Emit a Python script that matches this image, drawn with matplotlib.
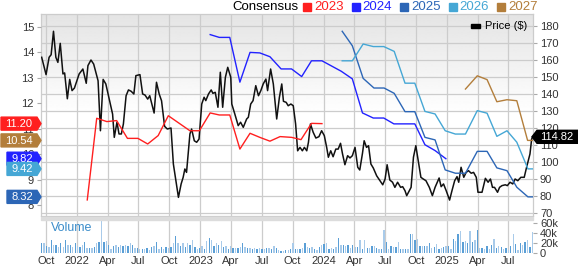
import numpy as np
import pandas as pd
import matplotlib
matplotlib.use('Agg')
import matplotlib.pyplot as plt
from matplotlib.patches import Polygon, Rectangle

plt.rcParams['font.family'] = ['Liberation Sans', 'DejaVu Sans']

# ---------------- data ----------------
price_dates = ['2021-09-18','2021-10-01','2021-10-10','2021-10-16','2021-10-23','2021-10-30','2021-11-05','2021-11-12',
 '2021-11-20','2021-11-25','2021-12-03','2021-12-10','2021-12-17','2021-12-24','2022-01-07','2022-01-18','2022-01-28',
 '2022-02-02','2022-02-11','2022-02-19','2022-03-04','2022-03-11','2022-03-19','2022-03-27','2022-04-08','2022-04-16',
 '2022-04-21','2022-04-29','2022-05-05','2022-05-12','2022-05-18','2022-05-26','2022-06-02','2022-06-10','2022-06-18',
 '2022-06-24','2022-07-06','2022-07-14','2022-07-21','2022-07-29','2022-08-04','2022-08-17','2022-08-24','2022-09-01',
 '2022-09-08','2022-09-17','2022-09-25','2022-10-06','2022-10-13','2022-10-28','2022-11-05','2022-11-11','2022-11-16',
 '2022-11-21','2022-12-01','2022-12-06','2022-12-14','2022-12-21','2022-12-28','2023-01-05','2023-01-12','2023-01-17',
 '2023-01-25','2023-02-02','2023-02-07','2023-02-14','2023-02-22','2023-03-01','2023-03-08','2023-03-16','2023-03-23',
 '2023-04-01','2023-04-04','2023-04-13','2023-04-23','2023-04-30','2023-05-08','2023-05-18','2023-05-23','2023-05-30',
 '2023-06-06','2023-06-14','2023-06-22','2023-06-29','2023-07-06','2023-07-14','2023-07-19','2023-07-28','2023-08-05',
 '2023-08-15','2023-08-23','2023-08-30','2023-09-04','2023-09-12','2023-09-18','2023-09-26','2023-10-03','2023-10-10',
 '2023-10-16','2023-10-23','2023-10-30','2023-11-05','2023-11-12','2023-11-17','2023-11-23','2023-12-01','2023-12-09',
 '2023-12-18','2023-12-26','2024-01-03','2024-01-10','2024-01-15','2024-01-22','2024-01-29','2024-02-06','2024-02-13',
 '2024-02-20','2024-02-26','2024-03-04','2024-03-12','2024-03-19','2024-03-26','2024-04-03','2024-04-11','2024-04-17',
 '2024-04-25','2024-04-30','2024-05-07','2024-05-13','2024-05-20','2024-05-27','2024-06-06','2024-06-16','2024-06-24',
 '2024-07-01','2024-07-07','2024-07-15','2024-07-23','2024-07-30','2024-08-07','2024-08-16','2024-08-22','2024-08-29',
 '2024-09-03','2024-09-16','2024-09-23','2024-09-30','2024-10-07','2024-10-15','2024-10-22','2024-10-30','2024-11-09',
 '2024-11-18','2024-11-26','2024-12-08','2024-12-14','2024-12-21','2024-12-29','2025-01-08','2025-01-15','2025-01-23',
 '2025-01-30','2025-02-04','2025-02-11','2025-02-19','2025-02-26','2025-03-05','2025-03-13','2025-03-20','2025-03-28',
 '2025-04-02','2025-04-14','2025-04-24','2025-05-02','2025-05-09','2025-05-15','2025-05-21','2025-05-30','2025-06-05',
 '2025-06-12','2025-06-22','2025-06-28','2025-07-06','2025-07-14','2025-07-21','2025-07-29','2025-08-07','2025-08-17',
 '2025-08-24','2025-09-03','2025-09-08','2025-09-11']
price_values = [161.6,151.4,161.6,163.1,176.9,161.6,158.6,169.8,151.8,152.4,137.2,148.6,142.0,143.5,151.8,154.7,146.3,
 156.7,160.0,157.6,147.8,118.4,148.6,145.9,135.1,128.2,114.5,123.4,116.5,116.5,122.4,139.0,142.4,141.6,140.0,150.8,
 151.4,140.0,139.4,137.0,139.0,128.8,146.9,140.0,136.0,121.0,119.4,120.0,98.8,79.2,87.1,91.0,95.9,93.9,116.5,119.4,
 112.5,111.6,113.5,134.1,138.1,136.1,140.0,142.4,140.4,141.0,132.2,152.8,132.2,149.8,155.7,149.8,134.1,128.2,121.4,
 123.4,120.4,125.3,126.3,134.1,136.1,144.9,139.0,142.0,145.9,148.8,142.0,154.7,145.9,125.3,138.1,145.9,135.7,135.1,
 133.1,134.1,133.1,122.4,106.6,108.6,106.6,108.6,106.6,111.6,122.4,117.5,114.1,114.9,118.4,115.5,108.6,102.8,106.6,
 103.1,107.6,107.6,111.0,104.7,98.4,103.7,102.4,103.7,108.6,96.9,95.3,105.1,112.5,108.6,109.6,98.8,96.5,91.9,89.0,
 86.6,90.0,98.4,89.4,88.1,85.1,88.1,85.1,85.5,83.1,80.2,85.1,102.8,109.6,100.8,91.0,90.0,89.0,85.1,80.2,85.1,90.6,
 85.5,87.1,83.1,77.6,83.1,89.0,91.4,88.1,96.9,91.0,93.9,94.9,93.4,93.9,91.0,82.2,82.2,90.4,88.1,90.0,85.1,85.1,82.2,
 85.1,86.1,86.6,86.1,88.1,87.1,90.0,89.0,91.0,91.0,96.9,104.7,113.5,114.82]

c2023_dates = ['2022-01-31','2022-02-28','2022-03-30','2022-04-28','2022-05-30','2022-06-30','2022-07-29','2022-08-29',
 '2022-09-28','2022-12-01','2022-12-29','2023-01-30','2023-02-26','2023-03-29','2023-04-28','2023-05-28','2023-06-26',
 '2023-07-26','2023-08-25','2023-09-28','2023-10-26','2023-11-26','2023-12-27']
c2023_values = [8.20,11.41,11.28,11.32,10.62,10.62,10.40,10.73,11.51,10.92,10.92,11.62,11.54,11.54,10.20,10.82,10.66,
 10.51,10.69,10.66,10.57,11.21,11.20]

c2024_dates = ['2023-01-30','2023-02-26','2023-03-29','2023-04-28','2023-05-28','2023-06-26','2023-07-26','2023-08-28',
 '2023-09-28','2023-10-28','2023-11-26','2023-12-27','2024-02-22','2024-03-26','2024-04-25','2024-05-27','2024-06-27',
 '2024-07-27','2024-08-29','2024-09-27','2024-10-27','2024-11-26','2024-12-28']
c2024_values = [14.70,14.59,14.59,12.83,14.00,13.98,13.83,13.35,13.35,13.05,13.67,13.67,13.26,12.96,11.62,11.42,11.42,
 11.19,11.19,11.19,10.37,10.14,9.82]

c2025_dates = ['2024-02-25','2024-03-26','2024-04-27','2024-05-29','2024-06-28','2024-07-28','2024-08-29','2024-09-27',
 '2024-10-27','2024-11-26','2024-12-26','2025-01-25','2025-02-24','2025-03-31','2025-04-29','2025-05-28','2025-06-27',
 '2025-07-26','2025-08-28','2025-09-11']
c2025_values = [14.83,14.26,12.98,12.60,12.60,12.39,11.67,11.67,10.66,10.56,9.38,9.25,9.25,10.11,10.11,9.46,9.35,8.70,
 8.32,8.32]

c2026_dates = ['2024-02-25','2024-03-26','2024-04-27','2024-05-27','2024-06-27','2024-07-28','2024-08-29','2024-09-27',
 '2024-10-27','2024-11-26','2024-12-26','2025-01-25','2025-02-24','2025-03-31','2025-04-29','2025-05-28','2025-06-27',
 '2025-07-26','2025-08-28','2025-09-11']
c2026_values = [13.67,13.67,14.33,14.23,14.23,14.04,12.79,12.79,11.68,11.58,10.92,10.79,10.79,11.71,11.61,10.70,10.92,
 10.47,9.42,9.42]

c2027_dates = ['2025-02-24','2025-03-31','2025-04-29','2025-05-28','2025-06-27','2025-07-26','2025-08-27','2025-09-11']
c2027_values = [12.56,13.08,12.93,12.06,12.14,12.10,10.54,10.54]

# weekly volume, thousands of shares
volume_k = [20,20,15,13,27,16,16,13,20,13, 27,16,17,13,20,15,13,17,23,11, 11,11,13,20,23,64,23,24,17,9,
 15,17,13,16,15,16,15,20,16,11, 11,9,9,9,11,7,13,15,23,9, 13,9,13,11,13,21,34,20,15,20,
 13,20,17,26,13,9,11,15,9,24, 31,26,15,20,16,24,13,15,9,15, 11,11,11,13,20,13,11,11,9,11,
 9,11,9,9,11,11,9,15,11,6,
 5,5,6,7,9,20,9,9,9,11, 21,13,11,13,9,7,13,16,18,20, 9,11,9,13,31,16,16,14,16,11,
 16,13,13,26,9,26,11,11,14,14, 11,9,9,46,23,9,14,13,13,23, 9,8,9,9,38,39,26,28,14,14,
 14,14,20,11,13,18,9,11,13,14, 14,9,29,24,39,44,23,25,21,44, 23,26,47,11,11,9,14,9,17,28,
 11,14,13,9,11,7,14,38,18,7, 20,16,23,27,13,43]
volume_start, volume_end = '2021-09-18', '2025-09-10'

series_names = ['2023', '2024', '2025', '2026', '2027']
series_colors = ['#ff1f1f', '#2222ff', '#2c66b6', '#45a7d5', '#b37e3b']
latest_labels = ['11.20', '10.54', '9.82', '9.42', '8.32']
latest_values = [11.20, 10.54, 9.82, 9.42, 8.32]
latest_colors = ['#ff1f1f', '#b37e3b', '#2222ff', '#45a7d5', '#2c66b6']
last_price = 114.82

x_start, x_end = '2021-09-16', '2025-09-12'
quarter_ticks = pd.date_range('2021-10-01', '2025-07-01', freq='QS')
quarter_labels = [str(d.year) if d.month == 1 else d.strftime('%b') for d in quarter_ticks]

# ---------------- layout ----------------
W, H, DPI = 578, 266, 100
fig = plt.figure(figsize=(W / DPI, H / DPI), dpi=DPI)

def frect(x0, y0, x1, y1):
    return [x0 / W, 1 - y1 / H, (x1 - x0) / W, (y1 - y0) / H]

def fpt(x, y):
    return (x / W, 1 - y / H)

main_rect = frect(41, 14, 533, 216)
vol_rect = frect(41, 219, 533, 253)
GRID = '#cccccc'
TXT = '#333333'

# gradient background
bg = fig.add_axes(main_rect, zorder=0)
grad = np.linspace(0, 1, 200)
shade = np.clip(0.895 + 0.105 * grad / 0.5, 0, 1)
bg.imshow(shade[:, None], cmap='gray', vmin=0, vmax=1, aspect='auto', extent=[0, 1, 0, 1])
bg.set_axis_off()

ax = fig.add_axes(main_rect, zorder=1)
ax.patch.set_alpha(0)
xs = pd.Timestamp(x_start); xe = pd.Timestamp(x_end)
ax.set_xlim(xs, xe)
ax.set_ylim(68.24, 187.06)
ax.set_xticks(quarter_ticks)
ax.grid(True, color=GRID, lw=0.9)
for s in ax.spines.values():
    s.set_color(GRID); s.set_linewidth(0.9)

ax2 = ax.twinx()
ax2.set_ylim(7.568, 15.51)
ax2.yaxis.tick_left()
ax2.yaxis.set_label_position('left')
ax2.set_yticks(np.arange(8, 16, 1))
ax2.tick_params(axis='y', which='both', left=True, right=False, labelleft=True, labelright=False,
                length=3, color='#aaaaaa', labelsize=8, labelcolor=TXT, pad=2)
for s in ax2.spines.values():
    s.set_visible(False)

# price axis on the right (set after twinx, which moves ticks)
ax.yaxis.tick_right()
ax.yaxis.set_label_position('right')
ax.set_yticks(np.arange(70, 181, 10))
ax.tick_params(axis='y', left=False, labelleft=False, right=True, labelright=True,
               length=3, color='#aaaaaa', labelsize=8, labelcolor=TXT, pad=2)
ax.tick_params(axis='x', length=0, labelbottom=False)

ax.plot(pd.to_datetime(price_dates), price_values, color='#111111', lw=1.1, zorder=3)

cons = [(c2023_dates, c2023_values), (c2024_dates, c2024_values), (c2025_dates, c2025_values),
        (c2026_dates, c2026_values), (c2027_dates, c2027_values)]
for (d, v), c in zip(cons, series_colors):
    ax2.plot(pd.to_datetime(d), v, color=c, lw=1.0)

# volume panel
vax = fig.add_axes(vol_rect, zorder=1)
vdates = pd.date_range(volume_start, volume_end, periods=len(volume_k))
vcols = ['#5b9fd6' if i % 2 == 0 else '#a9cbea' for i in range(len(volume_k))]
vax.bar(vdates, volume_k, width=4, color=vcols, zorder=2)
vax.set_xlim(xs, xe)
vax.set_ylim(0, 68)
vax.yaxis.tick_right()
vax.set_yticks([0, 20, 40, 60])
vax.set_yticklabels(['0', '20k', '40k', '60k'])
vax.set_xticks(quarter_ticks)
vax.set_xticklabels(quarter_labels)
vax.grid(True, axis='x', color=GRID, lw=0.9)
vax.tick_params(axis='x', length=0, labelsize=8, labelcolor=TXT, pad=2)
vax.tick_params(axis='y', length=3, color='#aaaaaa', labelsize=8, labelcolor=TXT, pad=2)
vax.patch.set_facecolor('white')
for s in vax.spines.values():
    s.set_visible(False)
vax.text(0.02, 0.73, 'Volume', transform=vax.transAxes, color='#3a8cca', fontsize=9, va='center', ha='left')

# separator band
fig.patches.append(Rectangle(fpt(41, 219.5), (533 - 41) / W, 3 / H, transform=fig.transFigure,
                             color='#dcdcdc', zorder=2))

# legend on top
fig.text(*fpt(232, 6.5), 'Consensus', fontsize=9.5, color='black', va='center', ha='left')
for i, (name, c) in enumerate(zip(series_names, series_colors)):
    x0 = 303 + 48.5 * i
    fig.patches.append(Rectangle(fpt(x0, 10.5), 8 / W, 8 / H, transform=fig.transFigure, color=c))
    fig.text(*fpt(x0 + 11, 6.5), name, fontsize=9.5, color=c, va='center', ha='left')

fig.patches.append(Rectangle(fpt(470.5, 27.5), 9.5 / W, 3.5 / H, transform=fig.transFigure, color='black', zorder=3))
fig.text(*fpt(485, 26), 'Price ($)', fontsize=8, color='black', va='center', ha='left')

# value tags on left axis
fig.canvas.draw()
for lab, val, c in zip(latest_labels, latest_values, latest_colors):
    ydisp = ax2.transData.transform((0, val))[1]
    yp = H - ydisp
    xl = 1 if len(lab) > 4 else 7
    pts = [fpt(xl, yp - 6.5), fpt(37, yp - 6.5), fpt(41, yp), fpt(37, yp + 6.5), fpt(xl, yp + 6.5)]
    fig.patches.append(Polygon(pts, closed=True, transform=fig.transFigure, color=c, zorder=4))
    fig.text(*fpt((xl + 37) / 2, yp + 0.5), lab, fontsize=8, color='white', va='center', ha='center', zorder=5)

# price tag on right
ydisp = ax.transData.transform((0, last_price))[1]
yp = H - ydisp
pts = [fpt(532, yp), fpt(537, yp - 6.5), fpt(578, yp - 6.5), fpt(578, yp + 6.5), fpt(537, yp + 6.5)]
fig.patches.append(Polygon(pts, closed=True, transform=fig.transFigure, color='black', zorder=4))
fig.text(*fpt(557, yp + 0.5), f'{last_price:.2f}', fontsize=8, color='white', va='center', ha='center', zorder=5)

fig.savefig('out.png', dpi=DPI)
